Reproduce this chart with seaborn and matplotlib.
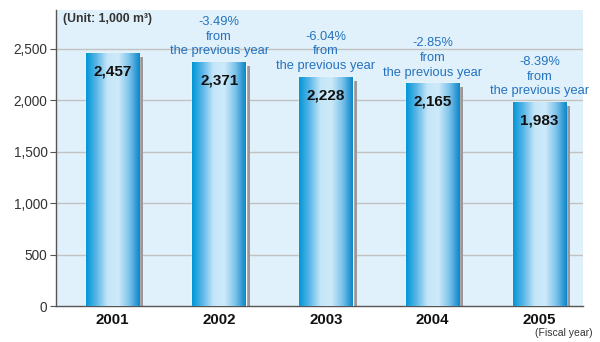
import numpy as np
import pandas as pd
import matplotlib
matplotlib.use("Agg")
import matplotlib.pyplot as plt
import matplotlib.transforms as mtransforms
from matplotlib.colors import LinearSegmentedColormap
from matplotlib.patches import Rectangle
import seaborn as sns

years = ["2001", "2002", "2003", "2004", "2005"]
values = [2457, 2371, 2228, 2165, 1983]
value_labels = ["2,457", "2,371", "2,228", "2,165", "1,983"]
changes = ["", "-3.49%", "-6.04%", "-2.85%", "-8.39%"]
yticks = [0, 500, 1000, 1500, 2000, 2500]
ytick_labels = ["0", "500", "1,000", "1,500", "2,000", "2,500"]

sns.set_theme(style="white")
plt.rcParams['font.family'] = ['Liberation Sans', 'DejaVu Sans']

fig = plt.figure(figsize=(6, 3.42), dpi=100)
ax = fig.add_axes([0.093, 0.105, 0.879, 0.866])
ax.set_facecolor("#E1F1FB")

df = pd.DataFrame({"year": years, "value": values})
sns.barplot(data=df, x="year", y="value", ax=ax, color="#4AAEE0", width=0.5,
            saturation=1, zorder=3)

ax.set_ylim(0, 2880)
ax.set_xlim(-0.53, 4.41)
ax.set_yticks(yticks)
ax.set_yticklabels(ytick_labels, fontsize=9.8, color="#333333")
ax.set_xlabel("")
ax.set_ylabel("")
for lab in ax.get_xticklabels():
    lab.set_fontweight("bold")
    lab.set_fontsize(10.8)
    lab.set_color("#111111")
ax.tick_params(axis="y", length=4, width=0.8, color="#555555", pad=2, left=True)
ax.tick_params(axis="x", length=0, pad=5)
for y in yticks[1:]:
    ax.axhline(y, color="#C2C2C2", lw=1, zorder=1)
for s in ["top", "right"]:
    ax.spines[s].set_visible(False)
ax.spines["left"].set_color("#555555")
ax.spines["bottom"].set_color("#555555")
ax.spines["left"].set_linewidth(1)
ax.spines["bottom"].set_linewidth(1)

cmap = LinearSegmentedColormap.from_list(
    "g", ["#0096D6", "#5DB8E8", "#C5E6F8", "#CDEAF9", "#7EC4EC", "#0A85C9"])
grad = np.linspace(0, 1, 256).reshape(1, -1)

shadow_tr = mtransforms.offset_copy(ax.transData, fig=fig, x=4, y=-4, units="dots")
for i, p in enumerate(ax.patches):
    x0, w, h = p.get_x(), p.get_width(), p.get_height()
    sh = Rectangle((x0, 0), w, h, transform=shadow_tr, facecolor="#999999",
                   edgecolor="none", zorder=2, clip_on=True)
    ax.add_patch(sh)
    im = ax.imshow(grad, cmap=cmap, aspect="auto", extent=[x0, x0 + w, 0, h],
                   zorder=4, interpolation="bicubic")
    im.set_clip_path(p)
    cx = x0 + w / 2
    ax.annotate(value_labels[i], (cx, h), xytext=(0, -13), textcoords="offset points",
                ha="center", va="center", fontsize=11, fontweight="bold",
                color="#111111", zorder=6)
    if changes[i]:
        ax.annotate(f"{changes[i]}\nfrom\nthe previous year", (cx, h), xytext=(0, 3.5),
                    textcoords="offset points", ha="center", va="bottom",
                    fontsize=9.3, color="#2472BE", linespacing=1.3, zorder=6)

ax.set_xlim(-0.53, 4.41)
ax.text(0.013, 0.988, "(Unit: 1,000 m³)", transform=ax.transAxes, ha="left", va="top",
        fontsize=8.8, fontweight="bold", color="#333333", zorder=7)
fig.text(0.988, 0.012, "(Fiscal year)", ha="right", va="bottom", fontsize=7.5,
         color="#333333")

fig.savefig("out.png", dpi=100)
